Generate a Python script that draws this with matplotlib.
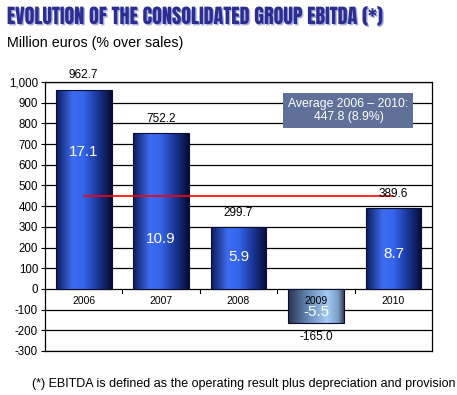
import matplotlib
matplotlib.use("Agg")
import matplotlib.pyplot as plt
import numpy as np
from matplotlib.colors import LinearSegmentedColormap
from matplotlib import patheffects

years = ["2006", "2007", "2008", "2009", "2010"]
ebitda = [962.7, 752.2, 299.7, -165.0, 389.6]
pct_sales = ["17.1", "10.9", "5.9", "-5.5", "8.7"]
average_value = 447.8
average_label = "Average 2006 \u2013 2010:\n447.8 (8.9%)"

# where the % labels sit inside each bar (layout)
pct_label_y = [660, 243, 155, -110, 170]

plt.rcParams["font.family"] = ["Liberation Sans", "DejaVu Sans"]

fig = plt.figure(figsize=(4.57, 3.95), dpi=100)
fig.patch.set_facecolor("white")
ax = fig.add_axes([0.0985, 0.1114, 0.847, 0.681])

x = np.arange(len(years))
bars = ax.bar(x, ebitda, width=0.72, color="none", edgecolor="#0a0f30",
              linewidth=0.8, zorder=3)

pos_cmap = LinearSegmentedColormap.from_list(
    "pos", [(0, "#0c1a5a"), (0.3, "#3d6cf2"), (0.5, "#3464ea"), (0.8, "#162c86"), (1, "#060c30")])
neg_cmap = LinearSegmentedColormap.from_list(
    "neg", [(0, "#26324a"), (0.3, "#5c7ca8"), (0.7, "#a4ccf6"), (0.9, "#7a9cc4"), (1, "#34445c")])
grad = np.linspace(0, 1, 256).reshape(1, -1)
for b, v in zip(bars, ebitda):
    x0, y0 = b.get_x(), b.get_y()
    w, h = b.get_width(), b.get_height()
    im = ax.imshow(grad, cmap=pos_cmap if v >= 0 else neg_cmap, aspect="auto",
                   extent=[x0, x0 + w, y0, y0 + h], zorder=2.5, interpolation="bicubic")
    im.set_clip_path(b)

ax.set_xlim(-0.5, len(years) - 0.5)
ax.set_ylim(-300, 1000)
ax.set_yticks(range(-300, 1001, 100))
ax.set_yticklabels([f"{t:,}" for t in range(-300, 1001, 100)], fontsize=8.3)
ax.yaxis.grid(True, color="black", linewidth=0.9, zorder=1)
ax.set_axisbelow(True)
ax.set_xticks([])
for s in ax.spines.values():
    s.set_linewidth(0.9)
ax.tick_params(axis="y", length=3, width=0.8, pad=2)

# boundary ticks on the zero line
for b in np.arange(0.5, len(years) - 0.5, 1):
    ax.plot([b, b], [0, -18], color="black", linewidth=0.8, zorder=4)

for i, (yr, v, p, py) in enumerate(zip(years, ebitda, pct_sales, pct_label_y)):
    ax.text(i, -58, yr, ha="center", va="center", fontsize=7.5, color="black", zorder=5)
    ax.text(i, py, p, ha="center", va="center", fontsize=11, color="white", zorder=5)
    if v >= 0:
        ax.annotate(f"{v:.1f}", (i, v), xytext=(0, 6), textcoords="offset points",
                    ha="center", va="bottom", fontsize=8.5, zorder=5)
    else:
        ax.annotate(f"{v:.1f}", (i, v), xytext=(0, -6), textcoords="offset points",
                    ha="center", va="top", fontsize=8.5, zorder=5)

ax.plot([0, len(years) - 1], [average_value, average_value], color="#ff0000",
        linewidth=1.2, zorder=4)

ax.text(3.42, 862, average_label, ha="center", va="center", fontsize=8.8,
        color="white", linespacing=1.1, zorder=6,
        bbox=dict(boxstyle="square,pad=0.4", facecolor="#5f7199", edgecolor="none"))

fig.text(0.015, 0.957, "EVOLUTION OF THE CONSOLIDATED GROUP EBITDA (*)",
         fontsize=14.5, family=["Anton", "DejaVu Sans"],
         color="#2b2d90", ha="left", va="center",
         path_effects=[patheffects.withSimplePatchShadow(offset=(1, -1), shadow_rgbFace="#aab0e0", alpha=1)])
fig.text(0.015, 0.89, "Million euros (% over sales)", fontsize=10.3, ha="left", va="center")
fig.text(0.997, 0.027, "(*) EBITDA is defined as the operating result plus depreciation and provision",
         fontsize=9, ha="right", va="center")

fig.savefig("out.png", dpi=100)
